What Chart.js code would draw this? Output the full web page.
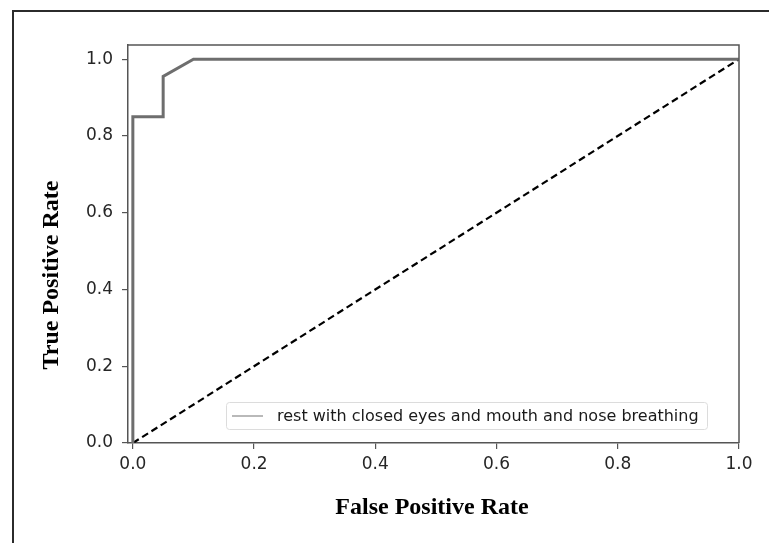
<!DOCTYPE html>
<html>
<head>
<meta charset="utf-8">
<script src="https://cdn.jsdelivr.net/npm/chart.js@4"></script>
<style>
  html, body { margin: 0; padding: 0; background: #fff; }
  #wrap { width: 769px; height: 543px; position: relative; }
</style>
</head>
<body>
<div id="wrap"><canvas id="rocChart" width="769" height="543"></canvas></div>
<script>
// datos de la curva ROC
const fpr = [0, 0, 0.05, 0.05, 0.1, 1.0];
const tpr = [0, 0.85, 0.85, 0.955, 1.0, 1.0];
const chanceX = [0, 1];
const chanceY = [0, 1];
const tickValues = [0, 0.2, 0.4, 0.6, 0.8, 1.0];
const legendLabel = 'rest with closed eyes and mouth and nose breathing';
const xTitle = 'False Positive Rate';
const yTitle = 'True Positive Rate';

const toPoints = (xs, ys) => xs.map((x, i) => ({ x: x, y: ys[i] }));
const tickFont = { family: 'DejaVu Sans', size: 17 };

// marco, spines, titulos y leyenda
const extrasPlugin = {
  id: 'extras',
  afterDraw(chart) {
    const c = chart.ctx;
    const a = chart.chartArea;
    c.save();
    // marco exterior (solo arriba e izquierda)
    c.strokeStyle = '#2b2b2b';
    c.lineWidth = 2;
    c.beginPath();
    c.moveTo(13, 543);
    c.lineTo(13, 11);
    c.lineTo(769, 11);
    c.stroke();

    // spines superior y derecho
    c.strokeStyle = '#555';
    c.lineWidth = 1.5;
    c.beginPath();
    c.moveTo(a.left, a.top);
    c.lineTo(a.right, a.top);
    c.lineTo(a.right, a.bottom);
    c.stroke();

    // titulos de ejes
    c.fillStyle = '#000';
    c.font = 'bold 24px "Liberation Serif", "Times New Roman", serif';
    c.textAlign = 'center';
    c.textBaseline = 'middle';
    c.fillText(xTitle, 432, 508);
    c.translate(52, 275);
    c.rotate(-Math.PI / 2);
    c.fillText(yTitle, 0, 0);
    c.setTransform(1, 0, 0, 1, 0, 0);

    // leyenda
    const bx = 226, by = 402, bw = 481, bh = 27;
    c.fillStyle = 'rgba(255,255,255,0.8)';
    c.strokeStyle = '#dcdcdc';
    c.lineWidth = 1;
    c.beginPath();
    c.roundRect(bx + 0.5, by + 0.5, bw, bh, 3);
    c.fill();
    c.stroke();
    c.strokeStyle = '#8a8a8a';
    c.lineWidth = 1.2;
    c.beginPath();
    c.moveTo(232, by + bh / 2 + 0.5);
    c.lineTo(263, by + bh / 2 + 0.5);
    c.stroke();
    c.fillStyle = '#1a1a1a';
    c.font = '16px "DejaVu Sans"';
    c.textAlign = 'left';
    c.textBaseline = 'middle';
    c.fillText(legendLabel, 277, by + bh / 2 + 1);
    c.restore();
  }
};

const ctx = document.getElementById('rocChart');
new Chart(ctx, {
  type: 'scatter',
  data: {
    datasets: [
      {
        label: legendLabel,
        data: toPoints(fpr, tpr),
        showLine: true,
        borderColor: '#6e6e6e',
        borderWidth: 3,
        pointRadius: 0,
        fill: false
      },
      {
        label: 'chance',
        data: toPoints(chanceX, chanceY),
        showLine: true,
        borderColor: '#000',
        borderWidth: 2.2,
        borderDash: [7, 4],
        pointRadius: 0,
        fill: false
      }
    ]
  },
  options: {
    responsive: false,
    animation: false,
    devicePixelRatio: 1,
    layout: { padding: { left: 0, top: 45, right: 30, bottom: 0 } },
    plugins: {
      legend: { display: false },
      tooltip: { enabled: false }
    },
    scales: {
      x: {
        type: 'linear',
        min: -0.008,
        max: 1.0,
        afterBuildTicks: s => { s.ticks = tickValues.map(v => ({ value: v })); },
        afterFit: s => { s.height = 100; },
        grid: { drawOnChartArea: false, drawTicks: true, tickLength: 6, color: '#555', lineWidth: 1.2 },
        border: { display: true, color: '#555', width: 1.5 },
        ticks: {
          font: tickFont,
          color: '#262626',
          padding: 5,
          maxRotation: 0,
          callback: v => Number(v).toFixed(1)
        }
      },
      y: {
        type: 'linear',
        min: 0,
        max: 1.037,
        afterBuildTicks: s => { s.ticks = tickValues.map(v => ({ value: v })); },
        afterFit: s => { s.width = 128; },
        grid: { drawOnChartArea: false, drawTicks: true, tickLength: 6, color: '#555', lineWidth: 1.2 },
        border: { display: true, color: '#555', width: 1.5 },
        ticks: {
          font: tickFont,
          color: '#262626',
          padding: 9,
          callback: v => Number(v).toFixed(1)
        }
      }
    }
  },
  plugins: [extrasPlugin]
});
</script>
</body>
</html>
